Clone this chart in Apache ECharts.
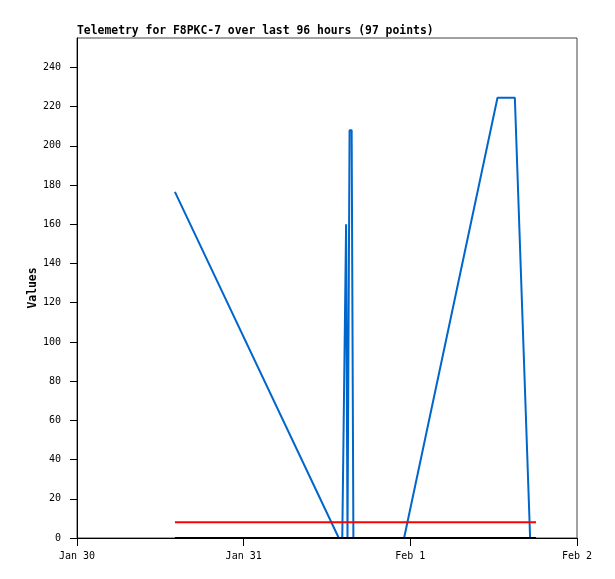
<!DOCTYPE html>
<html>
<head>
<meta charset="utf-8">
<script src="https://cdn.jsdelivr.net/npm/echarts@6/dist/echarts.min.js"></script>
<style>html,body{margin:0;padding:0;background:#fff}#c{width:615px;height:579px}</style>
</head>
<body>
<div id="c"></div>
<script>
// x values: hours since Jan 30 00:00
const xTickValues = [0, 24, 48, 72];
const xTickLabels = ['Jan 30', 'Jan 31', 'Feb 1', 'Feb 2'];
const yTickValues = [0, 20, 40, 60, 80, 100, 120, 140, 160, 180, 200, 220, 240];

const telemetryTimes = [14.1, 37.7, 38.2, 38.75, 38.95, 39.25, 39.55, 39.8, 47.1, 60.55, 63.05, 65.25];
const telemetryValues = [176.5, 0, 0, 160, 0, 208, 208, 0, 0, 224.5, 224.5, 0];
const limitTimes = [14.1, 66.1];
const redValues = [8, 8];
const blackValues = [0, 0];

const pair = (xs, ys) => xs.map((x, i) => [x, ys[i]]);
const mono = '"DejaVu Sans Mono", "Liberation Mono", monospace';

const chart = echarts.init(document.getElementById('c'), null, {renderer: 'canvas'});
chart.setOption({
  animation: false,
  backgroundColor: '#fff',
  title: {
    text: 'Telemetry for F8PKC-7 over last 96 hours (97 points)',
    left: 72, top: 21,
    textStyle: {fontFamily: mono, fontSize: 11.4, fontWeight: 'bold', color: '#000'}
  },
  grid: {left: 77, right: 38, top: 38, bottom: 41, show: true, borderColor: '#444', borderWidth: 1, backgroundColor: 'transparent'},
  xAxis: {
    type: 'value', min: 0, max: 72, interval: 24,
    axisLine: {show: true, onZero: false, lineStyle: {color: '#000', width: 1}},
    axisTick: {show: true, length: 8, lineStyle: {color: '#000'}, customValues: xTickValues},
    axisLabel: {
      customValues: xTickValues,
      formatter: v => xTickLabels[xTickValues.indexOf(v)] || '',
      fontFamily: mono, fontSize: 10, color: '#000', margin: 13
    },
    splitLine: {show: false}
  },
  yAxis: {
    type: 'value', min: 0, max: 255,
    name: 'Values', nameLocation: 'middle', nameGap: 38, nameRotate: 90, nameMoveOverlap: false,
    nameTextStyle: {fontFamily: mono, fontSize: 11.4, fontWeight: 'bold', color: '#000'},
    axisLine: {show: true, lineStyle: {color: '#000', width: 1}},
    axisTick: {show: true, length: 7, lineStyle: {color: '#000'}, customValues: yTickValues},
    axisLabel: {customValues: yTickValues, fontFamily: mono, fontSize: 10, color: '#000', margin: 16},
    splitLine: {show: false}
  },
  series: [
    {type: 'line', data: pair(telemetryTimes, telemetryValues), showSymbol: false, symbol: 'none',
     lineStyle: {color: '#0066cc', width: 2}, itemStyle: {color: '#0066cc'}},
    {type: 'line', data: pair(limitTimes, redValues), showSymbol: false, symbol: 'none',
     lineStyle: {color: '#ff0000', width: 2}},
    {type: 'line', data: pair(limitTimes, blackValues), showSymbol: false, symbol: 'none',
     lineStyle: {color: '#000', width: 2}}
  ]
});
</script>
</body>
</html>
